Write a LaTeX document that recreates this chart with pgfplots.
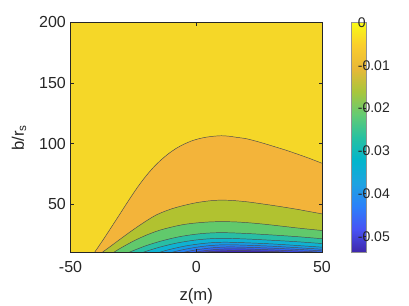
\documentclass[border=0pt]{standalone}
\usepackage{pgfplots}
\pgfplotsset{compat=1.18}
\usepackage{pgfplotstable}
\usepackage{fontspec}
\setmainfont{Liberation Sans}

\definecolor{tcol}{RGB}{38,38,38}
\definecolor{cY}{RGB}{245,215,40}
\definecolor{cA}{RGB}{243,180,58}
\definecolor{cB}{RGB}{177,194,48}
\definecolor{cC}{RGB}{97,201,108}
\definecolor{cD}{RGB}{40,190,165}
\definecolor{cE}{RGB}{15,178,210}
\definecolor{cF}{RGB}{20,155,228}
\definecolor{cG}{RGB}{35,128,240}
\definecolor{cH}{RGB}{48,100,242}
\definecolor{cI}{RGB}{60,70,225}
\definecolor{cJ}{RGB}{64,40,175}

\pgfplotstableread{
z y
-42 5.5
-40.5 10
-37 20.7
-34 30.2
-31 39.8
-28 49.5
-25 59
-22.5 66.4
-20 73.2
-17 80.4
-14 86.5
-11 91.7
-8 96
-5 99.4
-2 102.1
1 104
4 105.3
7 106.1
10 106.5
13 106.1
16 105.2
20 104
25 101.3
30 98.2
35 95
40 91.5
45 87.8
50 83.8
}\ctA
\pgfplotstableread{
z y
-39 7
-37.5 10
-35 13.8
-30 21.5
-25 29
-20 36
-15.5 41.5
-10 46
-5 48.9
0 51.2
5 52.7
9 53.3
14 53.1
20 52
25 50.6
30 49.1
35 47.5
40 45.8
45 43.9
50 42
}\ctB
\pgfplotstableread{
z y
-34.5 8
-33 10
-30 13.8
-25 19.5
-20 24.3
-15 28.2
-10 31
-5 33.2
0 34.5
5 35.3
10 35.6
15 35.4
20 34.8
25 33.9
30 32.8
35 31.6
40 30.4
45 29.3
50 28.3
}\ctC
\pgfplotstableread{
z y
-28.5 8.5
-27 10
-20 15.7
-13 20.1
-6 23.4
2 25.7
10 26.5
20 25.8
30 24.6
40 23.2
50 21.5
}\ctD
\pgfplotstableread{
z y
-23 8.5
-21.5 10
-15 14.25
-8 17.8
-1 20.2
5 21.4
11 21.8
20 21.25
30 20.2
40 19
50 17.5
}\ctE
\pgfplotstableread{
z y
-16.5 8.5
-15 10
-10 12.9
-4 15.6
2 17.4
7 18.3
12 18.6
20 18.1
30 17.2
40 15.9
50 14.5
}\ctF
\pgfplotstableread{
z y
-11.5 8.5
-10 10
-6 12.1
-1 14.1
4 15.5
9 16.3
13 16.5
20 16.1
30 15.3
40 14.1
50 12.8
}\ctG
\pgfplotstableread{
z y
-7 8.8
-5.5 10
-2 11.55
2 12.9
6 13.9
10 14.5
14 14.7
22 14.3
32 13.5
41 12.6
50 11.5
}\ctH
\pgfplotstableread{
z y
-3 9
-1.5 10
2 11.2
6 12.25
10 12.9
15 13.2
23 12.8
32 12.1
41 11.3
50 10.3
}\ctI
\pgfplotstableread{
z y
-0.5 9.3
1 10
5 10.75
9 11.3
13 11.6
17 11.7
23 11.5
29 11.1
34 10.6
39 10
42 9.5
}\ctJ

\begin{document}
\begin{tikzpicture}
\path[use as bounding box] (-52.9pt,-40pt) rectangle (253.9pt,189.5pt);
\begin{axis}[
  at={(0,0)}, anchor=south west,
  scale only axis, width=188.6pt, height=172.65pt,
  xmin=-50, xmax=50, ymin=10, ymax=200,
  xtick={-50,0,50}, ytick={50,100,150,200},
  tick align=inside, major tick length=2.5pt,
  tick style={color=tcol, line width=0.4pt},
  axis line style={color=tcol, line width=0.4pt},
  /pgf/number format/assume math mode=true,
  ticklabel style={font=\fontsize{12}{14}\selectfont, text=tcol},
  xticklabel style={yshift=-3pt},
  label style={font=\fontsize{12.5}{14}\selectfont, text=tcol},
  xlabel={z(m)}, ylabel={b/r\textsubscript{s}},
  xlabel style={at={(axis description cs:0.5,-0.188)}, anchor=center},
  ylabel style={at={(axis description cs:-0.205,0.5)}, anchor=center},
  axis background/.style={fill=cY},
  axis on top,
  point meta min=-0.0538, point meta max=0,
  colormap={parula}{
    rgb255(0cm)=(62,38,168);
    rgb255(1cm)=(72,82,244);
    rgb255(2cm)=(44,128,250);
    rgb255(3cm)=(30,163,225);
    rgb255(4cm)=(2,181,204);
    rgb255(5cm)=(39,193,161);
    rgb255(6cm)=(100,203,115);
    rgb255(7cm)=(168,198,60);
    rgb255(8cm)=(232,184,55);
    rgb255(9cm)=(250,205,45);
    rgb255(10cm)=(249,251,21)},
  colorbar,
  colorbar style={
    at={(parent axis.north east)}, anchor=north west,
    xshift=13.5pt, width=10.9pt,
    scaled y ticks=false,
    ytick={-0.05,-0.04,-0.03,-0.02,-0.01,0},
    yticklabels={-0.05,-0.04,-0.03,-0.02,-0.01,0},
    yticklabel style={font=\fontsize{10.5}{12}\selectfont, text=tcol, anchor=west, xshift=-9.5pt},
    ytick pos=right, tick align=inside, major tick length=2pt,
    tick style={color=tcol, line width=0.4pt},
    axis line style={color=tcol!50, line width=0.3pt},
  },
]
\addplot[fill=cA, draw=none, smooth, forget plot] table {\ctA} \closedcycle;
\addplot[fill=cB, draw=none, smooth, forget plot] table {\ctB} \closedcycle;
\addplot[fill=cC, draw=none, smooth, forget plot] table {\ctC} \closedcycle;
\addplot[fill=cD, draw=none, smooth, forget plot] table {\ctD} \closedcycle;
\addplot[fill=cE, draw=none, smooth, forget plot] table {\ctE} \closedcycle;
\addplot[fill=cF, draw=none, smooth, forget plot] table {\ctF} \closedcycle;
\addplot[fill=cG, draw=none, smooth, forget plot] table {\ctG} \closedcycle;
\addplot[fill=cH, draw=none, smooth, forget plot] table {\ctH} \closedcycle;
\addplot[fill=cI, draw=none, smooth, forget plot] table {\ctI} \closedcycle;
\addplot[fill=cJ, draw=none, smooth, forget plot] table {\ctJ} \closedcycle;
\addplot[draw=black!70, line width=0.35pt, smooth, forget plot] table {\ctA};
\addplot[draw=black!70, line width=0.35pt, smooth, forget plot] table {\ctB};
\addplot[draw=black!70, line width=0.35pt, smooth, forget plot] table {\ctC};
\addplot[draw=black!70, line width=0.35pt, smooth, forget plot] table {\ctD};
\addplot[draw=black!70, line width=0.35pt, smooth, forget plot] table {\ctE};
\addplot[draw=black!70, line width=0.35pt, smooth, forget plot] table {\ctF};
\addplot[draw=black!70, line width=0.35pt, smooth, forget plot] table {\ctG};
\addplot[draw=black!70, line width=0.35pt, smooth, forget plot] table {\ctH};
\addplot[draw=black!70, line width=0.35pt, smooth, forget plot] table {\ctI};
\addplot[draw=black!70, line width=0.35pt, smooth, forget plot] table {\ctJ};
\end{axis}
\end{tikzpicture}
\end{document}
